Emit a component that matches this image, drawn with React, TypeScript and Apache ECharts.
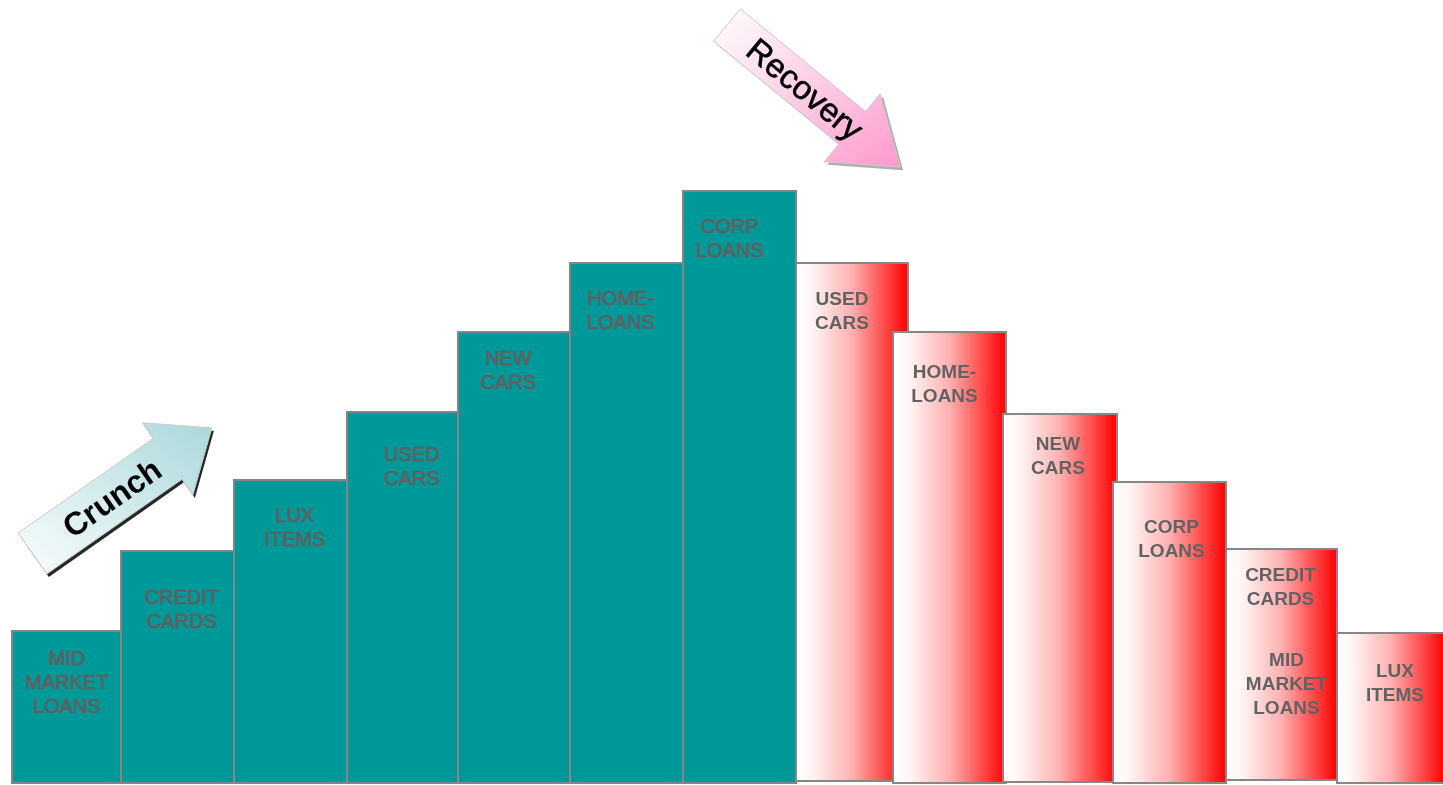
import React, { useEffect, useRef } from "react";
import * as echarts from "echarts";

// ---- data ----
const crunchLabels = ["MID\nMARKET\nLOANS", "CREDIT\nCARDS", "LUX\nITEMS", "USED\nCARS", "NEW\nCARS", "HOME-\nLOANS", "CORP\nLOANS"];
const crunchValues = [152, 232, 303, 371, 451, 520, 592];
const crunchStart = [12, 121, 234, 347, 458, 570, 683];
const crunchEnd = [121, 234, 347, 458, 570, 683, 796];

const recoveryLabels = ["USED\nCARS", "HOME-\nLOANS", "NEW\nCARS", "CORP\nLOANS", "CREDIT\nCARDS", "LUX\nITEMS"];
const recoveryValues = [520, 451, 369, 301, 234, 150];
const recoveryBase = [2, 0, 1, 0, 3, 0];
const recoveryStart = [796, 893, 1003, 1113, 1226, 1337];
const recoveryEnd = [908, 1006, 1117, 1226, 1337, 1445];
const recoveryExtraLabel = "MID\nMARKET\nLOANS";
const recoveryExtraIndex = 4;

// ---- layout (label nudges in px) ----
const crunchLabelDx = [0, 4, 4, 9, -6, -6, -10];
const crunchLabelDy = [27, 46, 35, 42, 26, 35, 35];
const recoveryLabelDx = [-10, -5, -2, 2, -1, 4];
const recoveryLabelDy = [35, 39, 29, 44, 25, 37];
const extraDx = 5;
const extraDy = 110;

const FONT = "'Liberation Sans', Arial, sans-serif";

function arrowPoints(tx: number, ty: number, angleDeg: number, len: number, shaftW: number, headW: number, headL: number, ox = 0, oy = 0) {
  const a = (angleDeg * Math.PI) / 180;
  const dx = Math.cos(a), dy = Math.sin(a);
  const nx = -dy, ny = dx;
  const pt = (s: number, t: number) => [tx + dx * s + nx * t + ox, ty + dy * s + ny * t + oy];
  const b = len - headL;
  return [pt(0, -shaftW / 2), pt(b, -shaftW / 2), pt(b, -headW / 2), pt(len, 0), pt(b, headW / 2), pt(b, shaftW / 2), pt(0, shaftW / 2)];
}

function alongPoint(tx: number, ty: number, angleDeg: number, s: number) {
  const a = (angleDeg * Math.PI) / 180;
  return [tx + Math.cos(a) * s, ty + Math.sin(a) * s];
}

export default function App() {
  const ref = useRef<HTMLDivElement>(null);
  useEffect(() => {
    if (!ref.current) return;
    const chart = echarts.init(ref.current, undefined, { renderer: "svg" });

    const crunchData = crunchValues.map((v, i) => [crunchStart[i], crunchEnd[i], v, 0]);
    const recoveryData = recoveryValues.map((v, i) => [recoveryStart[i], recoveryEnd[i], v, recoveryBase[i]]);

    const textStyle = (text: string, bold: boolean, color: string) => ({
      text,
      fill: color,
      fontFamily: FONT,
      fontSize: bold ? 19 : 20,
      fontWeight: bold ? "bold" : "normal",
      align: "center",
      verticalAlign: "top",
      lineHeight: 24,
    });

    const renderCrunch = (params: any, api: any) => {
      const i = params.dataIndex;
      const p0 = api.coord([api.value(0), api.value(2)]);
      const p1 = api.coord([api.value(1), api.value(3)]);
      const x = p0[0], y = p0[1], w = p1[0] - p0[0], h = p1[1] - p0[1];
      return {
        type: "group",
        children: [
          { type: "rect", shape: { x, y, width: w, height: h }, style: { fill: "#009999", stroke: "#858585", lineWidth: 2 } },
          {
            type: "text",
            x: x + w / 2 + crunchLabelDx[i],
            y: y + crunchLabelDy[i] - 12,
            style: { ...textStyle(crunchLabels[i], false, "#665c5c"), stroke: "#665c5c", lineWidth: 0.6 },
          },
        ],
      };
    };

    const renderRecovery = (params: any, api: any) => {
      const i = params.dataIndex;
      const p0 = api.coord([api.value(0), api.value(2)]);
      const p1 = api.coord([api.value(1), api.value(3)]);
      const x = p0[0], y = p0[1], w = p1[0] - p0[0], h = p1[1] - p0[1];
      const fill = new echarts.graphic.LinearGradient(0, 0, 1, 0, [
        { offset: 0, color: "#ffffff" },
        { offset: 0.15, color: "#fff4f4" },
        { offset: 0.5, color: "#ffb0b0" },
        { offset: 1, color: "#ff0000" },
      ]);
      const children: any[] = [
        { type: "rect", shape: { x, y, width: w, height: h }, style: { fill, stroke: "#878787", lineWidth: 2 } },
        { type: "text", x: x + w / 2 + recoveryLabelDx[i], y: y + recoveryLabelDy[i] - 12, style: textStyle(recoveryLabels[i], true, "#626262") },
      ];
      if (i === recoveryExtraIndex) {
        children.push({ type: "text", x: x + w / 2 + extraDx, y: y + extraDy - 12, style: textStyle(recoveryExtraLabel, true, "#626262") });
      }
      return { type: "group", children };
    };

    // arrows (annotations)
    const cT = [32.5, 553.5], cAng = -35, cLen = 219;
    const rT = [727, 25], rAng = 39.4, rLen = 224;
    const cText = alongPoint(cT[0], cT[1], cAng, 97);
    const rText = alongPoint(rT[0], rT[1], rAng, 101);

    chart.setOption({
      animation: false,
      grid: { left: 0, right: 0, top: 0, bottom: 2 },
      xAxis: { type: "value", min: 0, max: 1443, show: false },
      yAxis: { type: "value", min: 0, max: 783, show: false },
      series: [
        { type: "custom", name: "Crunch", renderItem: renderCrunch, data: crunchData, clip: false },
        { type: "custom", name: "Recovery", renderItem: renderRecovery, data: recoveryData, clip: false },
      ],
      graphic: [
        {
          type: "polygon",
          z: 10,
          shape: { points: arrowPoints(cT[0], cT[1], cAng, cLen, 50, 88, 54, 2, 3) },
          style: { fill: "#111111", opacity: 0.9 },
        },
        {
          type: "polygon",
          z: 11,
          shape: { points: arrowPoints(cT[0], cT[1], cAng, cLen, 50, 88, 54) },
          style: {
            fill: new echarts.graphic.LinearGradient(0, 1, 1, 0, [
              { offset: 0, color: "#fbfdfd" },
              { offset: 1, color: "#aad8dc" },
            ]),
            stroke: "#c8c8c8",
            lineWidth: 1,
          },
        },
        {
          type: "text",
          z: 12,
          x: cText[0],
          y: cText[1],
          rotation: (35 * Math.PI) / 180,
          style: { text: "Crunch", fill: "#000000", fontFamily: FONT, fontSize: 32, fontWeight: "bold", align: "center", verticalAlign: "middle" },
        },
        {
          type: "polygon",
          z: 10,
          shape: { points: arrowPoints(rT[0], rT[1], rAng, rLen, 42, 88, 62, 3, 3) },
          style: { fill: "#9a9a9a", opacity: 0.8 },
        },
        {
          type: "polygon",
          z: 11,
          shape: { points: arrowPoints(rT[0], rT[1], rAng, rLen, 42, 88, 62) },
          style: {
            fill: new echarts.graphic.LinearGradient(0, 0, 1, 1, [
              { offset: 0, color: "#ffffff" },
              { offset: 0.6, color: "#fdc4e2" },
              { offset: 1, color: "#ff99cc" },
            ]),
            stroke: "#c8c8c8",
            lineWidth: 1,
          },
        },
        {
          type: "text",
          z: 12,
          x: rText[0],
          y: rText[1],
          rotation: (-39.4 * Math.PI) / 180,
          style: { text: "Recovery", fill: "#000000", fontFamily: FONT, fontSize: 33, align: "center", verticalAlign: "middle", stroke: "#000000", lineWidth: 0.6 },
        },
      ],
    });
    return () => chart.dispose();
  }, []);
  return <div ref={ref} style={{ position: "fixed", left: 0, top: 0, width: 1443, height: 785 }} />;
}
